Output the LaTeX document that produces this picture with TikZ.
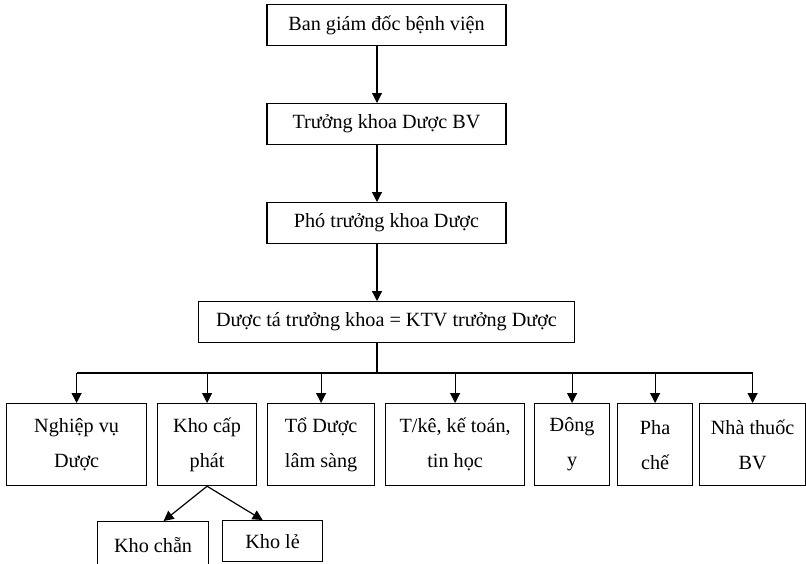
\documentclass[tikz,border=0pt]{standalone}
\usepackage{fontspec}
\setmainfont{Liberation Serif}
\usetikzlibrary{arrows.meta,positioning}

\begin{document}
\begin{tikzpicture}[
  x=0.5pt, y=-0.5pt,
  node distance=28.4pt,
  every node/.style={font=\fontsize{10.1}{17.5}\selectfont},
  box/.style={
    draw,
    line width=0.6pt,
    minimum height=20.5pt,
    inner sep=0pt,
    align=center
  },
  unit/.style={box, minimum height=41pt, anchor=north west},
  arrow/.style={-{Triangle[length=5pt,width=5pt]}, line width=0.6pt}
]
\path[use as bounding box, clip] (0,0) rectangle (806,563);

\node[box, minimum width=119.5pt, anchor=north] (board) at (386.5,4) {Ban giám đốc bệnh viện};
\node[box, minimum width=119.5pt, below=of board] (head) {Trưởng khoa Dược BV};
\node[box, minimum width=119.5pt, below=of head] (deputy) {Phó trưởng khoa Dược};
\node[box, minimum width=188pt, below=of deputy] (chief) {Dược tá trưởng khoa = KTV trưởng Dược};

\node[unit, minimum width=70pt] (nv) at (6,403) {Nghiệp vụ\\Dược};
\node[unit, minimum width=49.5pt, right=4.9pt of nv] (kcp) {Kho cấp\\phát};
\node[unit, minimum width=53.5pt, right=4.9pt of kcp] (tdls) {Tổ Dược\\lâm sàng};
\node[unit, minimum width=69.5pt, right=4.9pt of tdls] (tk) {T/kê, kế toán,\\tin học};
\node[unit, minimum width=37.5pt, right=4.4pt of tk] (dy) {Đông\\y};
\node[unit, minimum width=37.5pt, right=3.4pt of dy] (pc) {Pha\\chế};
\node[unit, minimum width=53pt, right=2.9pt of pc] (nt) {Nhà thuốc\\BV};

\node[box, minimum width=55.5pt, minimum height=23pt, anchor=north west] (kchan) at (97,521) {Kho chẵn};
\node[box, minimum width=50pt, anchor=north west] (kle) at (222,520) {Kho lẻ};

\coordinate (spine) at (377,0);
\coordinate (bus) at (0,373);

\draw[arrow] (board.south -| spine) -- (head.north -| spine);
\draw[arrow] (head.south -| spine) -- (deputy.north -| spine);
\draw[arrow] (deputy.south -| spine) -- (chief.north -| spine);
\draw[line width=0.6pt] (chief.south -| spine) -- (spine |- bus);
\draw[line width=0.6pt] (nv.north |- bus) -- (nt.north |- bus);
\foreach \n in {nv,kcp,tdls,tk,dy,pc,nt}
  \draw[arrow] (\n.north |- bus) -- (\n.north);

\draw[arrow] (kcp.south) -- ([xshift=5.25pt]kchan.north);
\draw[arrow] (kcp.south) -- ([xshift=-5pt]kle.north);
\end{tikzpicture}
\end{document}
